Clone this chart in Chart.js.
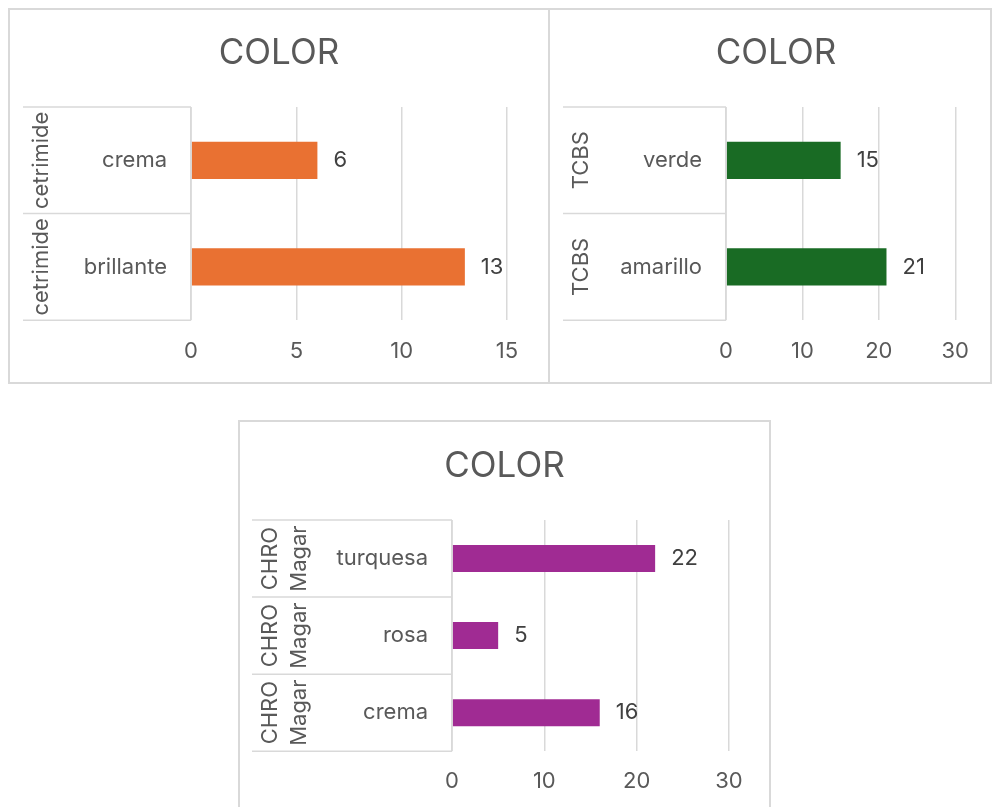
<!DOCTYPE html>
<html>
<head>
<meta charset="utf-8">
<script src="https://cdn.jsdelivr.net/npm/chart.js@4"></script>
<style>
  body { margin: 0; background: #fff; width: 993px; height: 807px; overflow: hidden; position: relative; }
  .panel { position: absolute; box-sizing: border-box; border: 2px solid #d9d9d9; background: #fff; }
  .panel canvas { display: block; }
</style>
</head>
<body>
<div class="panel" style="left:8px;top:8px;width:542px;height:376px"><canvas id="cetrimideChart" width="538" height="372"></canvas></div>
<div class="panel" style="left:548px;top:8px;width:444px;height:376px"><canvas id="tcbsChart" width="440" height="372"></canvas></div>
<div class="panel" style="left:238px;top:420px;width:533px;height:400px"><canvas id="chroChart" width="529" height="396"></canvas></div>
<script>
// cetrimide agar
const cetrimideColors = ['crema', 'brillante'];
const cetrimideGroups = [['cetrimide'], ['cetrimide']];
const cetrimideCounts = [6, 13];

// TCBS agar
const tcbsColors = ['verde', 'amarillo'];
const tcbsGroups = [['TCBS'], ['TCBS']];
const tcbsCounts = [15, 21];

// CHROMagar
const chroColors = ['turquesa', 'rosa', 'crema'];
const chroGroups = [['CHRO', 'Magar'], ['CHRO', 'Magar'], ['CHRO', 'Magar']];
const chroCounts = [22, 5, 16];

const TEXT = '#595959';
const LABEL = '#404040';
const LINE = '#d9d9d9';
const FONT = 'Inter, "Open Sans", sans-serif';
const SIZE = 22;

Chart.defaults.font.family = FONT;

// two-level category axis: group name rotated on the left, colour name next to the bars
const categoryTable = {
    id: 'categoryTable',
    afterDraw(chart, args, opts) {
        const y = chart.scales.y;
        const area = chart.chartArea;
        const ctx = chart.ctx;
        const labels = chart.data.labels;
        const band = y.height / labels.length;
        ctx.save();
        ctx.strokeStyle = LINE;
        ctx.lineWidth = 1.5;
        ctx.beginPath();
        for (let i = 0; i <= labels.length; i++) {
            const py = y.top + band * i;
            ctx.moveTo(y.left, py);
            ctx.lineTo(area.left, py);
        }
        ctx.moveTo(area.left, y.top);
        ctx.lineTo(area.left, y.bottom);
        ctx.stroke();

        ctx.fillStyle = TEXT;
        ctx.font = SIZE + 'px ' + FONT;
        ctx.textBaseline = 'middle';
        labels.forEach((label, i) => {
            const cy = y.getPixelForValue(i);
            ctx.textAlign = 'right';
            ctx.fillText(label, area.left - 24, cy);
            opts.groups[i].forEach((line, j) => {
                ctx.save();
                ctx.translate(y.left + 18 + 29 * j, cy);
                ctx.rotate(-Math.PI / 2);
                ctx.textAlign = 'center';
                ctx.fillText(line, 0, 0);
                ctx.restore();
            });
        });
        ctx.restore();
    }
};

// count written just past the end of each bar
const valueLabels = {
    id: 'valueLabels',
    afterDatasetsDraw(chart) {
        const ctx = chart.ctx;
        const ds = chart.data.datasets[0];
        ctx.save();
        ctx.fillStyle = LABEL;
        ctx.font = SIZE + 'px ' + FONT;
        ctx.textAlign = 'left';
        ctx.textBaseline = 'middle';
        chart.getDatasetMeta(0).data.forEach((bar, i) => {
            ctx.fillText(String(ds.data[i]), bar.x + 16, bar.y);
        });
        ctx.restore();
    }
};

const panelTitle = {
    id: 'panelTitle',
    afterDraw(chart, args, opts) {
        const ctx = chart.ctx;
        ctx.save();
        ctx.fillStyle = TEXT;
        ctx.font = '35px ' + FONT;
        ctx.textAlign = 'center';
        ctx.textBaseline = 'alphabetic';
        ctx.fillText(opts.text, chart.width / 2 + (opts.shift || 0), opts.baseline);
        ctx.restore();
    }
};

function drawPanel(canvasId, p) {
    return new Chart(document.getElementById(canvasId), {
        type: 'bar',
        data: {
            labels: p.labels,
            datasets: [{
                data: p.values,
                backgroundColor: p.color,
                barPercentage: 0.35,
                categoryPercentage: 1
            }]
        },
        options: {
            indexAxis: 'y',
            responsive: false,
            animation: false,
            layout: { padding: p.padding },
            plugins: {
                legend: { display: false },
                tooltip: { enabled: false },
                panelTitle: { text: 'COLOR', shift: p.titleShift, baseline: p.titleBaseline },
                categoryTable: { groups: p.groups }
            },
            scales: {
                x: {
                    min: 0,
                    max: p.max,
                    ticks: {
                        stepSize: p.step,
                        color: TEXT,
                        font: { size: SIZE, lineHeight: 0.9 },
                        padding: p.tickPad
                    },
                    grid: { color: LINE, lineWidth: 1.5, drawTicks: false },
                    border: { display: false }
                },
                y: {
                    ticks: { display: false },
                    grid: { display: false },
                    border: { display: false },
                    afterFit(scale) { scale.width = p.tableWidth; }
                }
            }
        },
        plugins: [categoryTable, valueLabels, panelTitle]
    });
}

document.fonts.load(SIZE + 'px Inter').then(function() {
    drawPanel('cetrimideChart', {
        labels: cetrimideColors, values: cetrimideCounts, groups: cetrimideGroups,
        color: '#E97132', max: 15, step: 5,
        padding: { top: 97, left: 13, right: 41, bottom: 0 },
        tableWidth: 168, tickPad: 21, titleShift: 0, titleBaseline: 54
    });
    drawPanel('tcbsChart', {
        labels: tcbsColors, values: tcbsCounts, groups: tcbsGroups,
        color: '#196B24', max: 30, step: 10,
        padding: { top: 97, left: 13, right: 30, bottom: 0 },
        tableWidth: 163, tickPad: 21, titleShift: 6, titleBaseline: 54
    });
    drawPanel('chroChart', {
        labels: chroColors, values: chroCounts, groups: chroGroups,
        color: '#A02B93', max: 30, step: 10,
        padding: { top: 98, left: 12, right: 40, bottom: 7 },
        tableWidth: 200, tickPad: 20, titleShift: 0, titleBaseline: 55
    });
});
</script>
</body>
</html>
